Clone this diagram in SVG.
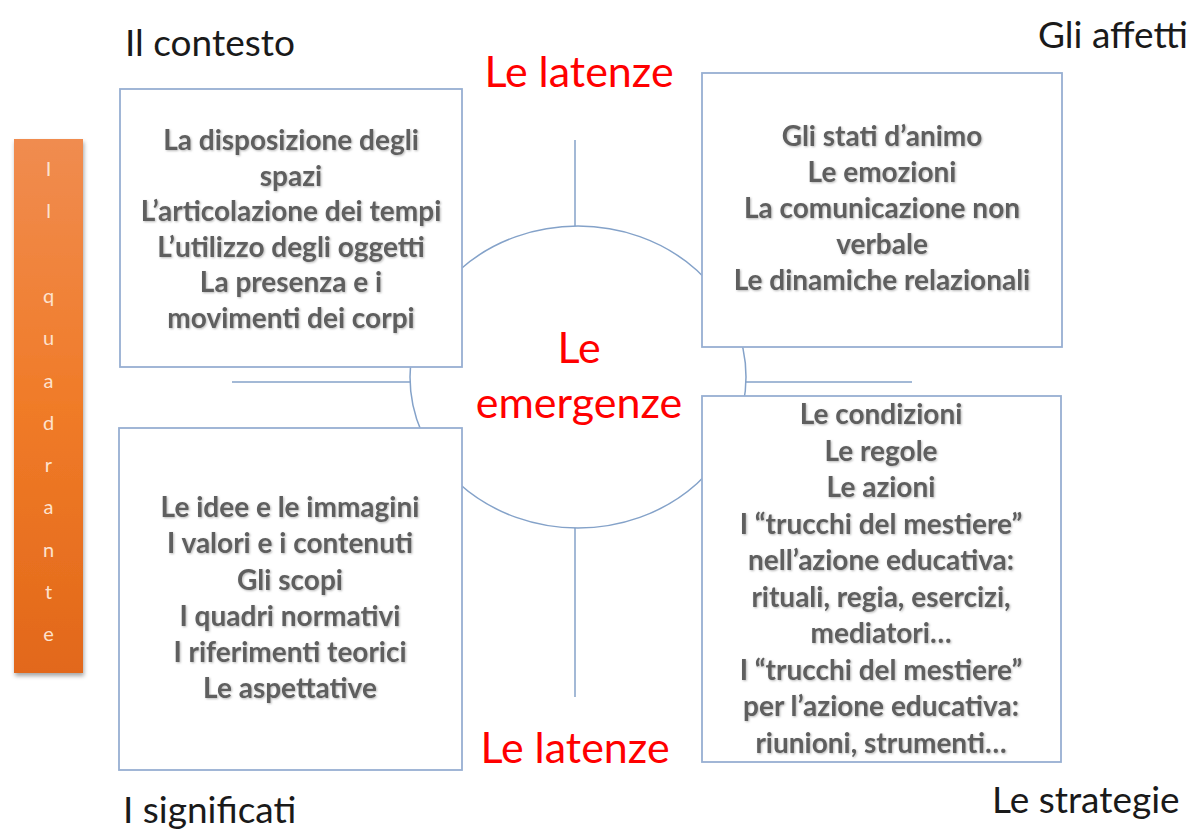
<svg xmlns="http://www.w3.org/2000/svg" width="1192" height="832" viewBox="0 0 1192 832">
  <defs>
    <linearGradient id="orange" x1="0" y1="0" x2="0" y2="1">
      <stop offset="0" stop-color="#f08c50"/>
      <stop offset="0.5" stop-color="#f07b28"/>
      <stop offset="1" stop-color="#e2681a"/>
    </linearGradient>
    <filter id="barShadow" x="-20%" y="-5%" width="150%" height="115%">
      <feDropShadow dx="1" dy="3" stdDeviation="2" flood-color="#000" flood-opacity="0.35"/>
    </filter>
    <filter id="txtShadow" x="-5%" y="-20%" width="110%" height="150%">
      <feDropShadow dx="1" dy="1" stdDeviation="0.8" flood-color="#9a9a9a" flood-opacity="0.7"/>
    </filter>
    <style>
      .line { stroke: #84a2c9; stroke-width: 1.5; fill: none; }
      .box { fill: #ffffff; stroke: #97afd2; stroke-width: 1.8; }
      .body { font-family: Lato, "Open Sans", sans-serif; font-weight: bold; font-size: 28px; fill: #5e5e5e; text-anchor: middle; }
      .corner { font-family: Lato, "Open Sans", sans-serif; font-size: 37px; fill: #1a1a1a; }
      .red { font-family: Lato, "Open Sans", sans-serif; font-size: 43px; fill: #ff0000; text-anchor: middle; }
      .bar { font-family: Lato, "Open Sans", sans-serif; font-size: 20px; fill: #fde2ce; text-anchor: middle; }
    </style>
  </defs>
  <rect width="1192" height="832" fill="#ffffff"/>

  <g id="connectors">
    <line class="line" x1="575" y1="140" x2="575" y2="697"/>
    <line class="line" x1="232" y1="382" x2="912" y2="382"/>
  </g>

  <g id="emergenze">
    <ellipse cx="578" cy="377" rx="168" ry="151" fill="#ffffff" stroke="#84a2c9" stroke-width="1.5"/>
    <text class="red" x="579" y="363">Le</text>
    <text class="red" x="579" y="418">emergenze</text>
  </g>

  <g id="contesto-box">
    <rect class="box" x="120" y="89" width="342" height="278"/>
    <g class="body" filter="url(#txtShadow)">
      <text x="291" y="150">La disposizione degli</text>
      <text x="291" y="186">spazi</text>
      <text x="291" y="221">L’articolazione dei tempi</text>
      <text x="291" y="257">L’utilizzo  degli oggetti</text>
      <text x="291" y="292">La presenza  e i</text>
      <text x="291" y="328">movimenti dei corpi</text>
    </g>
  </g>

  <g id="affetti-box">
    <rect class="box" x="702" y="73" width="360" height="274"/>
    <g class="body" filter="url(#txtShadow)">
      <text x="882" y="146">Gli stati d’animo</text>
      <text x="882" y="182">Le emozioni</text>
      <text x="882" y="218">La comunicazione non</text>
      <text x="882" y="254">verbale</text>
      <text x="882" y="290">Le dinamiche relazionali</text>
    </g>
  </g>

  <g id="significati-box">
    <rect class="box" x="119" y="428" width="343" height="342"/>
    <g class="body" filter="url(#txtShadow)">
      <text x="290" y="517">Le idee e le immagini</text>
      <text x="290" y="553">I valori e i contenuti</text>
      <text x="290" y="590">Gli scopi</text>
      <text x="290" y="626">I quadri normativi</text>
      <text x="290" y="662">I riferimenti  teorici</text>
      <text x="290" y="698">Le aspettative</text>
    </g>
  </g>

  <g id="strategie-box">
    <rect class="box" x="702" y="396" width="359" height="366"/>
    <g class="body" filter="url(#txtShadow)">
      <text x="881" y="424">Le condizioni</text>
      <text x="881" y="461">Le regole</text>
      <text x="881" y="497">Le azioni</text>
      <text x="881" y="534">I “trucchi del mestiere”</text>
      <text x="881" y="570">nell’azione educativa:</text>
      <text x="881" y="607">rituali, regia, esercizi,</text>
      <text x="881" y="643">mediatori…</text>
      <text x="881" y="680">I “trucchi del mestiere”</text>
      <text x="881" y="716">per l’azione educativa:</text>
      <text x="881" y="753">riunioni, strumenti…</text>
    </g>
  </g>

  <g id="quadrante-bar">
    <rect x="14" y="139" width="69" height="534" fill="url(#orange)" filter="url(#barShadow)"/>
    <g class="bar">
      <text x="48.5" y="176">I</text>
      <text x="48.5" y="218">l</text>
      <text x="48.5" y="303">q</text>
      <text x="48.5" y="345">u</text>
      <text x="48.5" y="388">a</text>
      <text x="48.5" y="430">d</text>
      <text x="48.5" y="472">r</text>
      <text x="48.5" y="514">a</text>
      <text x="48.5" y="557">n</text>
      <text x="48.5" y="599">t</text>
      <text x="48.5" y="641">e</text>
    </g>
  </g>

  <g id="labels">
    <text class="corner" x="125" y="56">Il contesto</text>
    <text class="corner" x="1038" y="48">Gli affetti</text>
    <text class="corner" x="123" y="823">I significati</text>
    <text class="corner" x="992" y="813">Le strategie</text>
    <text class="red" x="579" y="87">Le latenze</text>
    <text class="red" x="575" y="763">Le latenze</text>
  </g>
</svg>
